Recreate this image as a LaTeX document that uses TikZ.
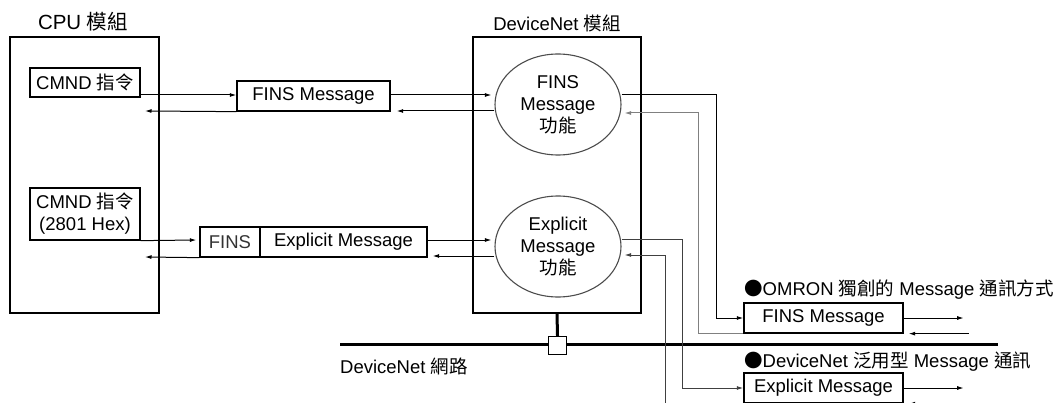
\documentclass[tikz,border=0pt]{standalone}
\usepackage{fontspec}
\setmainfont{Liberation Sans}
\newfontfamily\cjk{Noto Sans CJK TC}
\newcommand\zhtxt[1]{{\cjk #1}}
\usetikzlibrary{arrows.meta,shapes.geometric}
\tikzset{
  arr/.style={-{Latex[length=6.5pt,width=4pt]}, line width=1pt},
  bigbox/.style={draw, line width=1.8pt, inner sep=0pt},
  smallbox/.style={draw, line width=1.3pt, inner sep=0pt, align=center},
  fn/.style={draw=black!70, line width=1.1pt, ellipse, inner sep=0pt, minimum width=126pt, minimum height=101pt, align=center},
  lbl/.style={inner sep=0pt},
  bus/.style={line width=3pt},
}
\begin{document}
\begin{tikzpicture}[x=1pt,y=-1pt, font=\fontsize{18.5}{22}\selectfont]
\useasboundingbox (0,0) rectangle (1064,403);
% big boxes
\node[bigbox, minimum width=149pt, minimum height=276pt] (cpu) at (84.5,175) {};
\node[bigbox, minimum width=168pt, minimum height=276pt] (dn) at (557,175) {};
\node[lbl, font=\fontsize{20.5}{24}\selectfont] (cpul) at (83,22) {CPU \zhtxt{模組}};
\node[lbl] (dnl) at (557,23) {DeviceNet \zhtxt{模組}};
% CPU inner
\node[smallbox, minimum width=110pt, minimum height=29pt] (c1) at (85,82.5) {CMND \zhtxt{指令}};
\node[smallbox, minimum width=110pt, minimum height=52pt] (c2) at (85,214) {CMND \zhtxt{指令}\\(2801 Hex)};
% messages
\node[smallbox, minimum width=153pt, minimum height=30pt] (fm) at (313.5,96) {FINS Message};
\node[smallbox, minimum width=60pt, minimum height=30pt, text=black!80] (fs) at (230,242) {FINS};
\node[smallbox, minimum width=167pt, minimum height=30pt] (xm) at (343.5,242) {Explicit Message};
% ellipses
\node[fn] (fe) at (558,104.5) {FINS\\Message\\\zhtxt{功能}};
\node[fn] (ee) at (558,246.5) {Explicit\\Message\\\zhtxt{功能}};
% left side connectors
\coordinate (r1) at (145,111);
\coordinate (r2) at (145,257);
\draw[arr] (c1.east |- 0,95) -- (fm.west |- 0,95);
\draw[arr] (fm.south west) -- (r1);
\draw[arr] (fm.east |- 0,95) -- ([xshift=-3pt]fe.west |- 0,95);
\draw[arr] (fe.west |- 0,111) -- ([xshift=6pt]fm.east |- 0,111);
\draw[arr] (c2.south east) -- ([xshift=-3pt]fs.west |- 0,240);
\draw[arr] (fs.south west) -- (r2);
\draw[arr] (xm.east |- 0,240) -- ([xshift=-3pt]ee.west |- 0,240);
\draw[arr] (ee.west |- 0,256) -- ([xshift=5pt]xm.east |- 0,256);
% bus
\coordinate (busL) at (340,344);
\coordinate (busR) at (998,344);
\draw[bus] (busL) -- (busR);
\node[lbl, anchor=west] (busl) at (340,366) {DeviceNet \zhtxt{網路}};
% lower boxes
\node[smallbox, minimum width=159pt, minimum height=30pt] (fm2) at (823.5,318) {FINS Message};
\node[smallbox, minimum width=159pt, minimum height=30pt] (xm2) at (823.5,388) {Explicit Message};
\node[lbl, anchor=west] (b1) at (744,290) {\zhtxt{●}OMRON \zhtxt{獨創的} Message \zhtxt{通訊方式}};
\node[lbl, anchor=west] (b2) at (744,362) {\zhtxt{●}DeviceNet \zhtxt{泛用型} Message \zhtxt{通訊}};
% right connectors
\draw[arr] (fe.east |- 0,95) -- ++(95,0) |- (fm2.west);
\draw[arr, draw=black!50] (fm2.south west) -- ++(-45,0) |- ([xshift=3pt]fe.east |- 0,113);
\draw[arr, draw=black!75] (ee.east |- 0,239) -- ++(61,0) |- (xm2.west);
\draw[arr, draw=black!75] (xm2.south west) -- ++(-78,0) |- ([xshift=3pt]ee.east |- 0,255);
\draw[arr] (fm2.east) -- ++(60,0);
\draw[arr] ([xshift=65pt]fm2.south east) -- ([xshift=5pt]fm2.south east);
\draw[arr] (xm2.east) -- ++(60,0);
\draw[arr] ([xshift=65pt]xm2.south east) -- ([xshift=5pt]xm2.south east);
% stub and square
\node[draw, fill=white, line width=1.2pt, minimum size=18pt, inner sep=0pt] (sq) at (557.5,345.5) {};
\draw[bus] (dn.south) -- (sq.north);
\end{tikzpicture}
\end{document}
